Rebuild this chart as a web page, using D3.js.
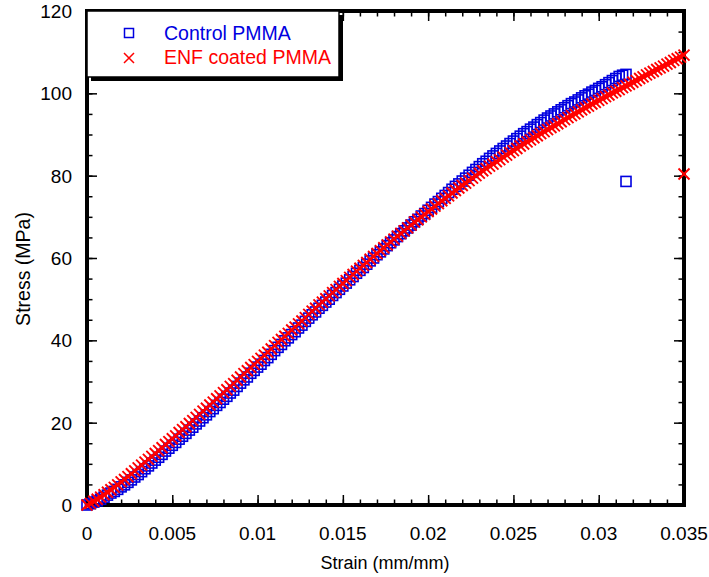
<!DOCTYPE html>
<html>
<head>
<meta charset="utf-8">
<script src="https://cdn.jsdelivr.net/npm/d3@7"></script>
<style>
  body { margin: 0; background: #fff; }
  svg { display: block; font-family: "Liberation Sans", Arial, sans-serif; }
</style>
</head>
<body>
<svg width="709" height="577"></svg>
<script>
// control PMMA (blue squares) - last point is the break point
const ctrlStrain = [
  0,.0002,.0004,.0006,.0008,.001,.0012,.0014,.0016,.0018,
  .002,.0022,.0024,.0026,.0028,.003,.0032,.0034,.0036,.0038,
  .004,.0042,.0044,.0046,.0048,.005,.0052,.0054,.0056,.0058,
  .006,.0062,.0064,.0066,.0068,.007,.0072,.0074,.0076,.0078,
  .008,.0082,.0084,.0086,.0088,.009,.0092,.0094,.0096,.0098,
  .01,.0102,.0104,.0106,.0108,.011,.0112,.0114,.0116,.0118,
  .012,.0122,.0124,.0126,.0128,.013,.0132,.0134,.0136,.0138,
  .014,.0142,.0144,.0146,.0148,.015,.0152,.0154,.0156,.0158,
  .016,.0162,.0164,.0166,.0168,.017,.0172,.0174,.0176,.0178,
  .018,.0182,.0184,.0186,.0188,.019,.0192,.0194,.0196,.0198,
  .02,.0202,.0204,.0206,.0208,.021,.0212,.0214,.0216,.0218,
  .022,.0222,.0224,.0226,.0228,.023,.0232,.0234,.0236,.0238,
  .024,.0242,.0244,.0246,.0248,.025,.0252,.0254,.0256,.0258,
  .026,.0262,.0264,.0266,.0268,.027,.0272,.0274,.0276,.0278,
  .028,.0282,.0284,.0286,.0288,.029,.0292,.0294,.0296,.0298,
  .03,.0302,.0304,.0306,.0308,.031,.0312,.0314,.0316,.0316];
const ctrlStress = [
  0,0.3,0.7,1.0,1.4,1.9,2.4,2.9,3.3,3.8,
  4.4,4.9,5.5,6.1,6.8,7.4,8.1,8.8,9.5,10.2,
  10.9,11.6,12.3,13.1,13.8,14.5,15.2,16.0,16.7,17.4,
  18.2,18.9,19.7,20.4,21.2,21.9,22.7,23.4,24.2,24.9,
  25.7,26.4,27.2,27.9,28.8,29.6,30.4,31.1,32.0,32.7,
  33.5,34.2,35.1,35.8,36.6,37.5,38.3,39.0,39.9,40.6,
  41.4,42.1,43.0,43.7,44.6,45.4,46.2,46.9,47.8,48.5,
  49.3,50.0,50.9,51.6,52.4,53.2,53.9,54.7,55.5,56.3,
  57.0,57.7,58.5,59.3,60.0,60.8,61.5,62.2,63.0,63.7,
  64.4,65.2,65.9,66.6,67.3,68.0,68.8,69.4,70.2,70.8,
  71.6,72.3,73.1,73.7,74.5,75.2,75.9,76.7,77.4,78.0,
  78.7,79.4,80.1,80.8,81.5,82.2,82.9,83.5,84.2,84.8,
  85.4,86.0,86.6,87.2,87.8,88.4,89.0,89.6,90.2,90.7,
  91.3,91.8,92.4,92.9,93.5,94.0,94.5,95.0,95.5,96.0,
  96.5,97.0,97.5,97.9,98.4,98.9,99.4,99.8,100.3,100.7,
  101.2,101.6,102.1,102.6,103.1,103.6,104.1,104.4,104.6,78.6];

// ENF coated PMMA (red crosses) - last point is the break point
const enfStrain = [
  0,.0002,.0004,.0006,.0008,.001,.0012,.0014,.0016,.0018,
  .002,.0022,.0024,.0026,.0028,.003,.0032,.0034,.0036,.0038,
  .004,.0042,.0044,.0046,.0048,.005,.0052,.0054,.0056,.0058,
  .006,.0062,.0064,.0066,.0068,.007,.0072,.0074,.0076,.0078,
  .008,.0082,.0084,.0086,.0088,.009,.0092,.0094,.0096,.0098,
  .01,.0102,.0104,.0106,.0108,.011,.0112,.0114,.0116,.0118,
  .012,.0122,.0124,.0126,.0128,.013,.0132,.0134,.0136,.0138,
  .014,.0142,.0144,.0146,.0148,.015,.0152,.0154,.0156,.0158,
  .016,.0162,.0164,.0166,.0168,.017,.0172,.0174,.0176,.0178,
  .018,.0182,.0184,.0186,.0188,.019,.0192,.0194,.0196,.0198,
  .02,.0202,.0204,.0206,.0208,.021,.0212,.0214,.0216,.0218,
  .022,.0222,.0224,.0226,.0228,.023,.0232,.0234,.0236,.0238,
  .024,.0242,.0244,.0246,.0248,.025,.0252,.0254,.0256,.0258,
  .026,.0262,.0264,.0266,.0268,.027,.0272,.0274,.0276,.0278,
  .028,.0282,.0284,.0286,.0288,.029,.0292,.0294,.0296,.0298,
  .03,.0302,.0304,.0306,.0308,.031,.0312,.0314,.0316,.0318,
  .032,.0322,.0324,.0326,.0328,.033,.0332,.0334,.0336,.0338,
  .034,.0342,.0344,.0346,.0348,.035,.035];
const enfStress = [
  0,0.4,0.9,1.4,1.9,2.5,3.1,3.7,4.3,4.9,
  5.6,6.2,6.9,7.6,8.3,9.0,9.7,10.4,11.1,11.8,
  12.5,13.2,13.9,14.7,15.4,16.1,16.8,17.6,18.3,19.0,
  19.8,20.5,21.3,22.0,22.8,23.5,24.3,25.0,25.8,26.5,
  27.3,28.0,28.8,29.5,30.3,31.1,31.9,32.6,33.4,34.1,
  34.9,35.6,36.4,37.1,37.9,38.7,39.5,40.2,41.0,41.7,
  42.5,43.2,44.0,44.7,45.5,46.3,47.1,47.8,48.6,49.3,
  50.1,50.8,51.6,52.3,53.1,53.8,54.5,55.3,56.0,56.8,
  57.5,58.2,58.9,59.7,60.4,61.1,61.8,62.5,63.2,63.9,
  64.6,65.3,66.0,66.6,67.3,68.0,68.7,69.3,70.0,70.6,
  71.3,71.9,72.6,73.2,73.9,74.5,75.1,75.8,76.4,77.0,
  77.6,78.2,78.8,79.4,80.0,80.6,81.2,81.7,82.3,82.8,
  83.4,83.9,84.5,85.0,85.6,86.1,86.6,87.2,87.7,88.2,
  88.7,89.2,89.7,90.2,90.7,91.2,91.7,92.1,92.6,93.1,
  93.6,94.1,94.6,95.0,95.5,96.0,96.5,96.9,97.4,97.8,
  98.3,98.7,99.2,99.6,100.1,100.5,100.9,101.4,101.8,102.2,
  102.7,103.1,103.6,104.0,104.5,104.9,105.3,105.8,106.2,106.6,
  107.1,107.5,108.0,108.4,108.8,109.3,80.4];

const seriesNames = ["Control PMMA", "ENF coated PMMA"];
const xTicks = [0, 0.005, 0.01, 0.015, 0.02, 0.025, 0.03, 0.035];
const xTickLabels = ["0", "0.005", "0.01", "0.015", "0.02", "0.025", "0.03", "0.035"];
const yTicks = [0, 20, 40, 60, 80, 100, 120];
const yTickLabels = ["0", "20", "40", "60", "80", "100", "120"];

const plotL = 87, plotR = 684, plotT = 11, plotB = 505;
const blue = "#0000e0", red = "#ff0000";

const svg = d3.select("svg");

const x = d3.scaleLinear().domain([0, 0.035]).range([plotL, plotR]);
const y = d3.scaleLinear().domain([0, 120]).range([plotB, plotT]);

const xMinor = d3.range(0, 36).map(i => i / 1000);
const yMinor = d3.range(0, 25).map(i => i * 5);

// inward ticks on all four sides, major and minor
const axes = [
  [() => d3.axisBottom(x), `translate(0,${plotB})`, xTicks, xMinor],
  [() => d3.axisTop(x), `translate(0,${plotT})`, xTicks, xMinor],
  [() => d3.axisLeft(y), `translate(${plotL},0)`, yTicks, yMinor],
  [() => d3.axisRight(y), `translate(${plotR},0)`, yTicks, yMinor]
];
axes.forEach(([mk, tr, major, minor]) => {
  svg.append("g").attr("transform", tr)
    .call(mk().tickValues(minor).tickSize(-5.5).tickFormat(""));
  svg.append("g").attr("transform", tr)
    .call(mk().tickValues(major).tickSize(-10).tickFormat(""));
});
svg.selectAll(".domain").remove();
svg.selectAll(".tick line").attr("stroke", "#000").attr("stroke-width", 1.5);

// frame
svg.append("rect")
  .attr("x", plotL).attr("y", plotT)
  .attr("width", plotR - plotL).attr("height", plotB - plotT)
  .attr("fill", "none").attr("stroke", "#000").attr("stroke-width", 4);

// tick labels
svg.append("g").selectAll("text").data(xTicks).join("text")
  .attr("x", d => x(d)).attr("y", 540)
  .attr("text-anchor", "middle").attr("font-size", 19)
  .text((d, i) => xTickLabels[i]);

svg.append("g").selectAll("text").data(yTicks).join("text")
  .attr("x", 72).attr("y", d => y(d) + 7)
  .attr("text-anchor", "end").attr("font-size", 19)
  .text((d, i) => yTickLabels[i]);

// axis titles
svg.append("text")
  .attr("x", 385).attr("y", 569)
  .attr("text-anchor", "middle").attr("font-size", 18)
  .text("Strain (mm/mm)");

svg.append("text")
  .attr("transform", "translate(30,269) rotate(-90)")
  .attr("text-anchor", "middle").attr("font-size", 19.5)
  .text("Stress (MPa)");

// data
const ctrl = ctrlStrain.map((s, i) => [s, ctrlStress[i]]);
const enf = enfStrain.map((s, i) => [s, enfStress[i]]);

const sq = 10;
svg.append("g").selectAll("rect").data(ctrl).join("rect")
  .attr("x", d => x(d[0]) - sq / 2).attr("y", d => y(d[1]) - sq / 2)
  .attr("width", sq).attr("height", sq)
  .attr("fill", "none").attr("stroke", blue).attr("stroke-width", 1.6);

const cross = "M-5.5,-5.5L5.5,5.5M-5.5,5.5L5.5,-5.5";
svg.append("g").selectAll("path").data(enf).join("path")
  .attr("transform", d => `translate(${x(d[0])},${y(d[1])})`)
  .attr("d", cross)
  .attr("fill", "none").attr("stroke", red).attr("stroke-width", 1.9);

// legend
const lg = svg.append("g");
lg.append("rect").attr("x", 91).attr("y", 15).attr("width", 252).attr("height", 66).attr("fill", "#000");
lg.append("rect").attr("x", 87).attr("y", 11).attr("width", 252).attr("height", 66)
  .attr("fill", "#fff").attr("stroke", "#000").attr("stroke-width", 1.5);

lg.append("rect").attr("x", 129 - 4.5).attr("y", 33 - 4.5).attr("width", 9).attr("height", 9)
  .attr("fill", "none").attr("stroke", blue).attr("stroke-width", 1.5);
lg.append("path").attr("transform", "translate(129,58)").attr("d", "M-5,-5L5,5M-5,5L5,-5")
  .attr("fill", "none").attr("stroke", red).attr("stroke-width", 1.5);

lg.append("text").attr("x", 164).attr("y", 40).attr("font-size", 19.5)
  .attr("fill", blue).text(seriesNames[0]);
lg.append("text").attr("x", 164).attr("y", 64).attr("font-size", 19.5)
  .attr("fill", red).text(seriesNames[1]);
</script>
</body>
</html>
